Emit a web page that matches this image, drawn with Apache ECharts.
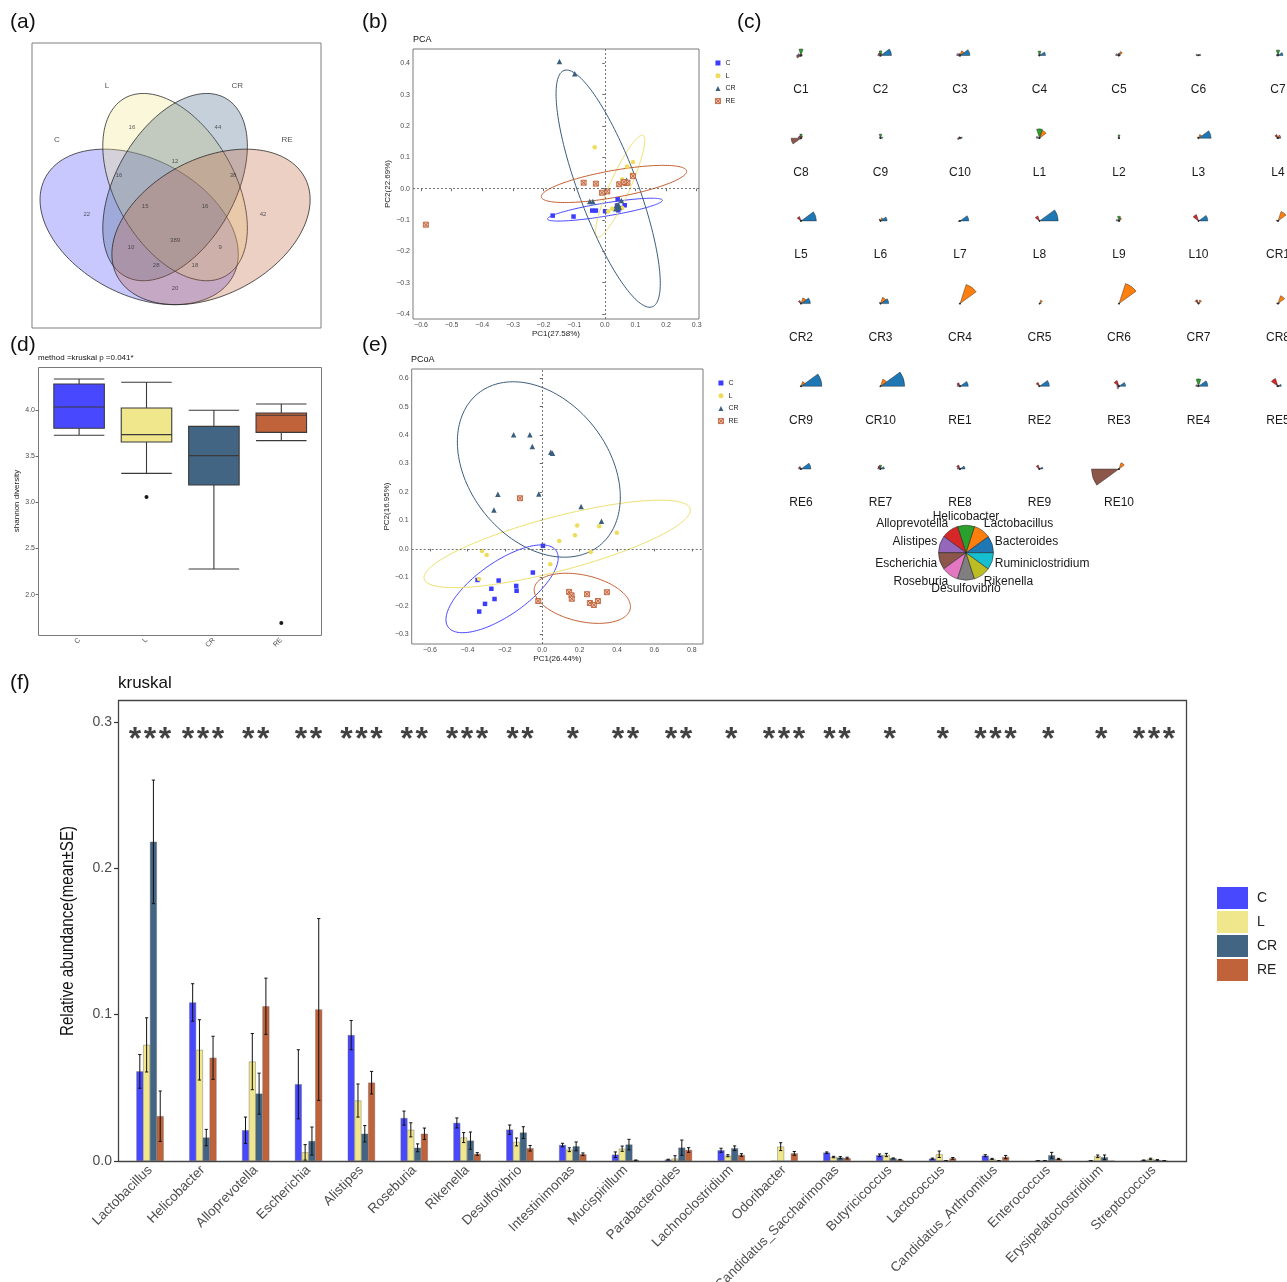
<!DOCTYPE html>
<html>
<head>
<meta charset="utf-8">
<script src="https://cdn.jsdelivr.net/npm/echarts@6.0.0/dist/echarts.min.js"></script>
<style>html,body{margin:0;padding:0;background:#fff;}#main{width:1287px;height:1282px;}</style>
</head>
<body>
<div id="main"></div>
<script>
// ================= DATA =================
const groups = ['C', 'L', 'CR', 'RE'];

// (a) Venn diagram: ellipses [cx, cy, a, b, rotationDeg] in unit square, counts per region
const vennSets = ['C', 'L', 'CR', 'RE'];
const vennEllipseC  = [0.383, 0.427, 0.335, 0.213, -26.5];
const vennEllipseL  = [0.497, 0.551, 0.320, 0.188, -59.5];
const vennEllipseCR = [0.497, 0.551, 0.320, 0.188, 59.5];
const vennEllipseRE = [0.611, 0.427, 0.335, 0.213, 26.5];
const vennCounts = [16, 44, 22, 42, 16, 12, 38, 15, 16, 10, 389, 9, 28, 18, 20];

// (b) PCA scores
const pcaC  = [[-0.170,-0.086],[-0.102,-0.089],[-0.041,-0.070],[-0.029,-0.070],[0.001,-0.072],[0.042,-0.034],[0.040,-0.054],[0.049,-0.062],[0.065,-0.053],[0.044,-0.069]];
const pcaL  = [[-0.033,0.132],[0.073,0.071],[0.092,0.085],[0.057,0.030],[0.088,0.045],[0.051,0.014],[0.011,-0.072],[0.024,-0.064],[0.057,-0.062],[0.060,0.021]];
const pcaCR = [[-0.148,0.406],[-0.098,0.367],[-0.049,-0.041],[-0.039,-0.041],[0.038,-0.054],[0.044,-0.051],[0.054,-0.038],[0.071,0.027],[0.036,-0.064],[0.047,-0.059]];
const pcaRE = [[-0.584,-0.115],[-0.069,0.019],[-0.029,0.016],[-0.009,-0.013],[0.008,-0.009],[0.047,0.014],[0.069,0.018],[0.074,0.019],[0.092,0.040],[0.062,0.021]];
// confidence ellipses [cx, cy, u1x, u1y, u2x, u2y] (centre + conjugate semi-axes)
const pcaEllC  = [0.0005, -0.067, 0.1875, 0.030, -0.0033, 0.0207];
const pcaEllL  = [0.050, 0.008, 0.0745, 0.162, -0.030, 0.0138];
const pcaEllCR = [0.011, 0.000, 0.1445, -0.377, 0.0897, 0.0344];
const pcaEllRE = [0.030, 0.015, 0.237, 0.0415, -0.0074, 0.0424];
const pcaXTicks = [-0.6,-0.5,-0.4,-0.3,-0.2,-0.1,0,0.1,0.2,0.3];
const pcaYTicks = [-0.4,-0.3,-0.2,-0.1,0,0.1,0.2,0.3,0.4];

// (c) star (segment) plots, scaled 0..1
const starTaxa = ['Bacteroides','Lactobacillus','Helicobacter','Alloprevotella','Alistipes','Escherichia','Roseburia','Desulfovibrio','Rikenella','Ruminiclostridium'];
const starKeyValues = [1,1,1,1,1,1,1,1,1,1];
const starC = [
  [0.05,0.05,0.24,0.06,0.12,0.16,0.04,0.03,0.03,0.02],
  [0.40,0.08,0.17,0.10,0.10,0.04,0.03,0.03,0.03,0.03],
  [0.36,0.18,0.06,0.08,0.12,0.05,0.03,0.03,0.03,0.03],
  [0.22,0.05,0.16,0.04,0.05,0.02,0.02,0.03,0.02,0.02],
  [0.05,0.15,0.08,0.06,0.12,0.04,0.03,0.02,0.02,0.02],
  [0.08,0.05,0.03,0.03,0.09,0.03,0.02,0.02,0.02,0.02],
  [0.18,0.05,0.20,0.05,0.06,0.04,0.02,0.02,0.02,0.02],
  [0.04,0.08,0.15,0.09,0.10,0.36,0.04,0.03,0.02,0.02],
  [0.08,0.03,0.15,0.04,0.04,0.02,0.02,0.02,0.02,0.02],
  [0.08,0.04,0.03,0.06,0.05,0.09,0.02,0.02,0.02,0.02]];
const starL = [
  [0.03,0.30,0.34,0.04,0.12,0.03,0.02,0.02,0.02,0.02],
  [0.03,0.02,0.12,0.05,0.03,0.02,0.02,0.02,0.02,0.02],
  [0.46,0.14,0.03,0.05,0.03,0.02,0.02,0.02,0.02,0.02],
  [0.10,0.12,0.05,0.14,0.05,0.03,0.02,0.02,0.02,0.02],
  [0.56,0.04,0.03,0.17,0.03,0.02,0.02,0.02,0.02,0.02],
  [0.24,0.12,0.03,0.07,0.03,0.02,0.02,0.02,0.02,0.02],
  [0.32,0.03,0.02,0.03,0.03,0.06,0.02,0.02,0.02,0.02],
  [0.68,0.02,0.02,0.19,0.02,0.02,0.02,0.02,0.02,0.02],
  [0.04,0.12,0.17,0.04,0.10,0.02,0.02,0.02,0.02,0.02],
  [0.34,0.03,0.02,0.24,0.02,0.02,0.02,0.02,0.02,0.02]];
const starCR = [
  [0.04,0.36,0.02,0.02,0.06,0.02,0.02,0.02,0.02,0.02],
  [0.34,0.22,0.03,0.12,0.03,0.02,0.02,0.02,0.02,0.02],
  [0.30,0.24,0.03,0.05,0.03,0.02,0.02,0.02,0.02,0.02],
  [0.02,0.73,0.02,0.02,0.03,0.02,0.02,0.02,0.02,0.02],
  [0.06,0.13,0.02,0.02,0.02,0.02,0.02,0.02,0.02,0.02],
  [0.02,0.77,0.02,0.02,0.02,0.02,0.02,0.02,0.02,0.02],
  [0.04,0.14,0.03,0.15,0.04,0.02,0.02,0.02,0.02,0.02],
  [0.05,0.30,0.02,0.03,0.05,0.02,0.02,0.02,0.02,0.02],
  [0.76,0.18,0.02,0.02,0.02,0.03,0.02,0.02,0.02,0.02],
  [0.88,0.27,0.02,0.02,0.02,0.03,0.02,0.02,0.02,0.02]];
const starRE = [
  [0.30,0.04,0.03,0.14,0.10,0.03,0.02,0.02,0.02,0.02],
  [0.36,0.03,0.02,0.15,0.04,0.02,0.02,0.02,0.02,0.02],
  [0.24,0.03,0.05,0.22,0.08,0.05,0.10,0.02,0.02,0.02],
  [0.34,0.04,0.27,0.05,0.10,0.03,0.02,0.02,0.02,0.02],
  [0.12,0.04,0.03,0.30,0.05,0.03,0.02,0.02,0.02,0.02],
  [0.36,0.03,0.02,0.10,0.09,0.03,0.02,0.02,0.02,0.02],
  [0.14,0.04,0.14,0.12,0.10,0.03,0.02,0.02,0.02,0.02],
  [0.18,0.04,0.03,0.15,0.10,0.03,0.02,0.02,0.02,0.02],
  [0.12,0.03,0.03,0.15,0.05,0.03,0.02,0.02,0.02,0.02],
  [0.02,0.24,0.02,0.02,0.02,1.00,0.02,0.02,0.02,0.02]];

// (d) Shannon diversity boxplot [min, Q1, median, Q3, max]
const boxC  = [3.729, 3.805, 4.036, 4.286, 4.340];
const boxL  = [3.316, 3.656, 3.736, 4.025, 4.304];
const boxCR = [2.278, 3.190, 3.508, 3.826, 4.000];
const boxRE = [3.671, 3.761, 3.946, 3.971, 4.069];
const boxOutliers = [[1, 3.060], [3, 1.693]];
const boxYTicks = [2.0, 2.5, 3.0, 3.5, 4.0];

// (e) PCoA scores
const pcoaC  = [[0.004,0.011],[-0.050,-0.083],[-0.233,-0.111],[-0.346,-0.109],[-0.272,-0.140],[-0.139,-0.130],[-0.137,-0.147],[-0.255,-0.176],[-0.306,-0.193],[-0.337,-0.220]];
const pcoaL  = [[-0.322,-0.007],[-0.297,-0.021],[-0.338,-0.106],[0.043,-0.054],[0.091,0.028],[0.175,0.048],[0.187,0.082],[0.305,0.080],[0.399,0.057],[0.260,-0.011]];
const pcoaCR = [[-0.153,0.401],[-0.066,0.401],[-0.053,0.360],[0.046,0.340],[0.055,0.336],[-0.237,0.192],[-0.258,0.137],[-0.018,0.193],[0.208,0.149],[0.317,0.097]];
const pcoaRE = [[-0.119,0.178],[-0.021,-0.183],[0.144,-0.151],[0.157,-0.163],[0.158,-0.175],[0.240,-0.159],[0.255,-0.190],[0.276,-0.197],[0.298,-0.183],[0.346,-0.152]];
const pcoaEllC  = [-0.2146, -0.1401, 0.2889, 0.1341, 0.0815, -0.0761];
const pcoaEllL  = [0.080, 0.0176, 0.7113, 0.1231, 0.0367, -0.0918];
const pcoaEllCR = [-0.018, 0.279, 0.3245, -0.2674, -0.2908, -0.1530];
const pcoaEllRE = [0.2146, -0.1735, 0.2559, -0.0380, -0.0272, -0.0794];
const pcoaXTicks = [-0.6,-0.4,-0.2,0,0.2,0.4,0.6,0.8];
const pcoaYTicks = [-0.3,-0.2,-0.1,0,0.1,0.2,0.3,0.4,0.5,0.6];

// (f) relative abundance bars
const taxa = ['Lactobacillus','Helicobacter','Alloprevotella','Escherichia','Alistipes','Roseburia','Rikenella','Desulfovibrio','Intestinimonas','Mucispirillum','Parabacteroides','Lachnoclostridium','Odoribacter','Candidatus_Saccharimonas','Butyricicoccus','Lactococcus','Candidatus_Arthromitus','Enterococcus','Erysipelatoclostridium','Streptococcus'];
const significance = ['***','***','**','**','***','**','***','**','*','**','**','*','***','**','*','*','***','*','*','***'];
const meanC  = [0.0612,0.1083,0.0210,0.0524,0.0860,0.0293,0.0260,0.0214,0.0109,0.0043,0.0009,0.0073,0.0000,0.0057,0.0039,0.0016,0.0036,0.0002,0.0002,0.0005];
const seC    = [0.0115,0.0128,0.0090,0.0236,0.0100,0.0048,0.0034,0.0032,0.0012,0.0019,0.0003,0.0014,0.0000,0.0005,0.0009,0.0004,0.0007,0.0001,0.0001,0.0002];
const meanL  = [0.0793,0.0759,0.0679,0.0059,0.0413,0.0213,0.0160,0.0130,0.0077,0.0084,0.0016,0.0036,0.0098,0.0027,0.0041,0.0046,0.0014,0.0002,0.0032,0.0014];
const seL    = [0.0185,0.0206,0.0192,0.0053,0.0113,0.0048,0.0034,0.0027,0.0013,0.0018,0.0020,0.0007,0.0027,0.0005,0.0011,0.0022,0.0004,0.0001,0.0009,0.0005];
const meanCR = [0.2180,0.0160,0.0460,0.0136,0.0186,0.0090,0.0139,0.0194,0.0100,0.0112,0.0091,0.0087,0.0000,0.0023,0.0018,0.0002,0.0002,0.0039,0.0025,0.0007];
const seCR   = [0.0422,0.0056,0.0140,0.0096,0.0056,0.0027,0.0059,0.0040,0.0030,0.0036,0.0052,0.0016,0.0000,0.0007,0.0003,0.0001,0.0001,0.0020,0.0016,0.0002];
const meanRE = [0.0306,0.0705,0.1057,0.1035,0.0535,0.0186,0.0048,0.0087,0.0046,0.0005,0.0075,0.0041,0.0052,0.0020,0.0009,0.0018,0.0027,0.0014,0.0000,0.0002];
const seRE   = [0.0172,0.0147,0.0192,0.0621,0.0077,0.0039,0.0009,0.0019,0.0009,0.0002,0.0016,0.0009,0.0013,0.0006,0.0002,0.0006,0.0011,0.0004,0.0000,0.0001];
const barYTicks = [0, 0.1, 0.2, 0.3];

// ================= STYLE / LAYOUT =================
const FONT = "'Liberation Sans', Arial, Helvetica, sans-serif";
const groupFill = ['#4848FF', '#F0E68C', '#436584', '#C0623A'];
const ptColor   = ['#3C3CFF', '#EEDC5A', '#3D5F7E', '#C0623A'];
const ellColor  = ['#4646FF', '#EEE070', '#3A5C7C', '#C35F30'];
const vennFill  = ['rgba(72,72,255,0.3)', 'rgba(240,230,140,0.32)', 'rgba(67,101,132,0.3)', 'rgba(192,98,58,0.3)'];
const keyColors = ['#1f77b4','#ff7f0e','#2ca02c','#d62728','#9467bd','#8c564b','#e377c2','#7f7f7f','#bcbd22','#17becf'];
const RE_ICON = 'path://M0,0H10V10H0Z M0,0L10,10 M10,0L0,10';
const ptSymbols = ['rect', 'circle', 'triangle', RE_ICON];
const ptSizes = [4.5, 4.5, 5.5, 5];
const reStyle = {color: 'rgba(235,190,170,1)', borderColor: '#C0623A', borderWidth: 0.9, opacity: 1};
const VENN_NAME_POS = [[0.122,0.698],[0.281,0.866],[0.694,0.866],[0.852,0.698]];
const VENN_COUNT_POS = [[0.360,0.738],[0.633,0.738],[0.217,0.467],[0.776,0.467],[0.319,0.589],[0.497,0.632],[0.681,0.589],[0.402,0.492],[0.592,0.492],[0.357,0.364],[0.497,0.386],[0.640,0.364],[0.437,0.308],[0.560,0.308],[0.497,0.237]];
const STAR = {x0: 801, dx: 79.5, y0: 55.5, dy: 82.7, r: 27.5, labelDy: 34, cols: 7, font: 12};
const KEY = {cx: 966, cy: 552.7, r: 27.5, labelR: 1.1, lift: 5.5};
const BAR_W = 6.8, CAP = 1.6, SIG_Y = 0.2875, SIG_DX = 15;
const minus = v => (v < 0 ? '\u2212' : '') + Math.abs(v).toFixed(1);

// ================= OPTION =================
const option = {
  animation: false,
  backgroundColor: '#fff',
  textStyle: {fontFamily: FONT},
  grid: [], xAxis: [], yAxis: [], polar: [], angleAxis: [], radiusAxis: [],
  series: [], legend: [], graphic: []
};

function ellipseSeries(name, params, color, axisIdx) {
  return {
    type: 'custom', name: name, xAxisIndex: axisIdx, yAxisIndex: axisIdx, silent: true, z: 1,
    dimensions: ['cx','cy','ux','uy','vx','vy'], encode: {x: 0, y: 1},
    data: [params],
    renderItem(p, api) {
      const cx = api.value(0), cy = api.value(1), ux = api.value(2), uy = api.value(3), vx = api.value(4), vy = api.value(5);
      const pts = [];
      for (let k = 0; k <= 160; k++) {
        const t = k / 160 * Math.PI * 2;
        pts.push(api.coord([cx + ux * Math.cos(t) + vx * Math.sin(t), cy + uy * Math.cos(t) + vy * Math.sin(t)]));
      }
      return {type: 'polyline', shape: {points: pts}, style: {fill: 'none', stroke: color, lineWidth: 1}};
    }
  };
}

function valueAxisCommon(ticks, fmt) {
  return {
    axisLine: {show: false},
    axisTick: {show: true, length: 2.5, customValues: ticks, lineStyle: {color: '#444', width: 0.8}},
    axisLabel: {customValues: ticks, formatter: fmt, fontSize: 7, color: '#4d4d4d', margin: 3},
    splitLine: {show: false}
  };
}

// ---------- (a) Venn ----------
option.grid.push({left: 32, top: 43, width: 289, height: 285, outerBoundsMode: 'none', containLabel: false, show: true, borderColor: '#7f7f7f', borderWidth: 1});
option.xAxis.push({gridIndex: 0, type: 'value', min: 0.043, max: 0.960, show: false});
option.yAxis.push({gridIndex: 0, type: 'value', min: 0.112, max: 1.0, show: false});
option.series.push({
  type: 'custom', xAxisIndex: 0, yAxisIndex: 0, silent: true,
  dimensions: ['cx','cy','a','b','rot'], encode: {x: 0, y: 1},
  data: [vennEllipseC, vennEllipseL, vennEllipseCR, vennEllipseRE],
  renderItem(p, api) {
    const cx = api.value(0), cy = api.value(1), a = api.value(2), b = api.value(3), th = api.value(4) * Math.PI / 180;
    const pts = [];
    for (let k = 0; k <= 160; k++) {
      const t = k / 160 * Math.PI * 2, ex = a * Math.cos(t), ey = b * Math.sin(t);
      pts.push(api.coord([cx + ex * Math.cos(th) - ey * Math.sin(th), cy + ex * Math.sin(th) + ey * Math.cos(th)]));
    }
    return {type: 'polygon', shape: {points: pts}, style: {fill: vennFill[p.dataIndex], stroke: '#2a2a2a', lineWidth: 0.8}};
  }
});
option.series.push({
  type: 'scatter', xAxisIndex: 0, yAxisIndex: 0, silent: true, symbolSize: 1, z: 5,
  itemStyle: {color: 'transparent'},
  data: vennCounts.map((c, k) => [VENN_COUNT_POS[k][0], VENN_COUNT_POS[k][1], c]),
  label: {show: true, position: 'inside', formatter: p => p.value[2], fontSize: 6, color: '#333'}
});
option.series.push({
  type: 'scatter', xAxisIndex: 0, yAxisIndex: 0, silent: true, symbolSize: 1, z: 5,
  itemStyle: {color: 'transparent'},
  data: vennSets.map((s, k) => [VENN_NAME_POS[k][0], VENN_NAME_POS[k][1], s]),
  label: {show: true, position: 'inside', formatter: p => p.value[2], fontSize: 8, color: '#222'}
});

// ---------- (b) PCA ----------
option.grid.push({left: 413, top: 49, width: 286, height: 270, outerBoundsMode: 'none', containLabel: false, show: true, borderColor: '#7a7a7a', borderWidth: 1});
option.xAxis.push(Object.assign({gridIndex: 1, type: 'value', min: -0.626, max: 0.3075,
  name: 'PC1(27.58%)', nameLocation: 'middle', nameGap: 10.5, nameTextStyle: {fontSize: 8, color: '#222'}}, valueAxisCommon(pcaXTicks, minus)));
option.yAxis.push(Object.assign({gridIndex: 1, type: 'value', min: -0.416, max: 0.4457,
  name: 'PC2(22.69%)', nameLocation: 'middle', nameGap: 20, nameRotate: 90, nameTextStyle: {fontSize: 8, color: '#222'}}, valueAxisCommon(pcaYTicks, minus)));
[pcaEllC, pcaEllL, pcaEllCR, pcaEllRE].forEach((e, i) => option.series.push(ellipseSeries(groups[i] + ' ellipse', e, ellColor[i], 1)));
[pcaC, pcaL, pcaCR, pcaRE].forEach((d, i) => option.series.push({
  type: 'scatter', name: groups[i], xAxisIndex: 1, yAxisIndex: 1, data: d, silent: true, z: 3,
  symbol: ptSymbols[i], symbolSize: ptSizes[i],
  itemStyle: i === 3 ? reStyle : {color: ptColor[i], opacity: 1},
  markLine: i === 0 ? {silent: true, symbol: ['none','none'], label: {show: false},
    lineStyle: {type: [2, 2], color: '#555', width: 0.8}, data: [{xAxis: 0}, {yAxis: 0}]} : undefined
}));

// ---------- (d) boxplot ----------
option.grid.push({left: 45.4, top: 367, width: 269.6, height: 268, outerBoundsMode: 'none', containLabel: false});
option.xAxis.push({gridIndex: 2, type: 'category', data: groups, boundaryGap: true,
  axisLine: {show: false}, axisTick: {alignWithLabel: true, length: 2.5, lineStyle: {color: '#444', width: 0.8}},
  axisLabel: {rotate: 45, fontSize: 7, color: '#4d4d4d', margin: 4}});
option.yAxis.push(Object.assign({gridIndex: 2, type: 'value', min: 1.562, max: 4.47, offset: 7.4,
  name: 'shannon diversity', nameLocation: 'middle', nameGap: 17, nameRotate: 90, nameTextStyle: {fontSize: 8, color: '#222'}},
  valueAxisCommon(boxYTicks, v => v.toFixed(1))));
option.series.push({
  type: 'boxplot', xAxisIndex: 2, yAxisIndex: 2, silent: true, boxWidth: [50.5, 50.5],
  itemStyle: {borderColor: '#3a3a3a', borderWidth: 1.1},
  data: [boxC, boxL, boxCR, boxRE].map((b, i) => ({value: b, itemStyle: {color: groupFill[i]}}))
});
option.series.push({type: 'scatter', xAxisIndex: 2, yAxisIndex: 2, silent: true, data: boxOutliers,
  symbolSize: 4, itemStyle: {color: '#1a1a1a', opacity: 1}});

// ---------- (e) PCoA ----------
option.grid.push({left: 411.7, top: 369, width: 291.3, height: 275, outerBoundsMode: 'none', containLabel: false, show: true, borderColor: '#7a7a7a', borderWidth: 1});
option.xAxis.push(Object.assign({gridIndex: 3, type: 'value', min: -0.698, max: 0.860,
  name: 'PC1(26.44%)', nameLocation: 'middle', nameGap: 11, nameTextStyle: {fontSize: 8, color: '#222'}}, valueAxisCommon(pcoaXTicks, minus)));
option.yAxis.push(Object.assign({gridIndex: 3, type: 'value', min: -0.334, max: 0.632,
  name: 'PC2(16.95%)', nameLocation: 'middle', nameGap: 19, nameRotate: 90, nameTextStyle: {fontSize: 8, color: '#222'}}, valueAxisCommon(pcoaYTicks, minus)));
[pcoaEllC, pcoaEllL, pcoaEllCR, pcoaEllRE].forEach((e, i) => option.series.push(ellipseSeries(groups[i] + ' ellipse2', e, ellColor[i], 3)));
[pcoaC, pcoaL, pcoaCR, pcoaRE].forEach((d, i) => option.series.push({
  type: 'scatter', name: groups[i], xAxisIndex: 3, yAxisIndex: 3, data: d, silent: true, z: 3,
  symbol: ptSymbols[i], symbolSize: ptSizes[i],
  itemStyle: i === 3 ? reStyle : {color: ptColor[i], opacity: 1},
  markLine: i === 0 ? {silent: true, symbol: ['none','none'], label: {show: false},
    lineStyle: {type: [2, 2], color: '#555', width: 0.8}, data: [{xAxis: 0}, {yAxis: 0}]} : undefined
}));

// ---------- (f) bar chart ----------
option.grid.push({left: 123.6, top: 700, width: 1056.8, height: 461, outerBoundsMode: 'none', containLabel: false});
option.xAxis.push({gridIndex: 4, type: 'category', data: taxa, boundaryGap: true,
  axisLine: {show: false}, axisTick: {alignWithLabel: true, length: 4, lineStyle: {color: '#333', width: 1.2}},
  axisLabel: {rotate: 45, interval: 0, fontSize: 13.5, color: '#4d4d4d', margin: 7}});
option.yAxis.push({gridIndex: 4, type: 'value', min: 0, max: 0.3149, offset: 5.6,
  axisLine: {show: false},
  axisTick: {show: true, length: 4, customValues: barYTicks, lineStyle: {color: '#333', width: 1.2}},
  axisLabel: {customValues: barYTicks, formatter: v => v.toFixed(1), fontSize: 14, color: '#4d4d4d', margin: 6},
  splitLine: {show: false}});
const barMeans = [meanC, meanL, meanCR, meanRE];
const barSE = [seC, seL, seCR, seRE];
groups.forEach((g, gi) => {
  option.series.push({type: 'bar', name: g, xAxisIndex: 4, yAxisIndex: 4, data: barMeans[gi], silent: true,
    barWidth: BAR_W, barGap: '0%', itemStyle: {color: groupFill[gi], borderColor: '#666', borderWidth: 0.4}});
});
groups.forEach((g, gi) => {
  option.series.push({
    type: 'custom', name: g + ' SE', xAxisIndex: 4, yAxisIndex: 4, silent: true, z: 5,
    dimensions: ['k','lo','hi'], encode: {x: 0, y: [1, 2]},
    data: taxa.map((t, k) => [k, barMeans[gi][k] - barSE[gi][k], barMeans[gi][k] + barSE[gi][k]]),
    renderItem(p, api) {
      const k = api.value(0), lo = api.value(1), hi = api.value(2);
      if (hi - lo <= 0) return null;
      const top = api.coord([k, hi]), bot = api.coord([k, lo]);
      const x = top[0] + (gi - 1.5) * BAR_W;
      const st = {stroke: '#111', lineWidth: 1};
      return {type: 'group', children: [
        {type: 'line', shape: {x1: x, y1: top[1], x2: x, y2: bot[1]}, style: st},
        {type: 'line', shape: {x1: x - CAP, y1: top[1], x2: x + CAP, y2: top[1]}, style: st},
        {type: 'line', shape: {x1: x - CAP, y1: bot[1], x2: x + CAP, y2: bot[1]}, style: st}
      ]};
    }
  });
});
// significance asterisks: one label per asterisk, spaced around the category centre
const sigItems = [];
significance.forEach((s, k) => {
  const n = s.length;
  for (let m = 0; m < n; m++) sigItems.push({value: [k, SIG_Y], label: {offset: [(m - (n - 1) / 2) * SIG_DX, 0]}});
});
option.series.push({
  type: 'scatter', xAxisIndex: 4, yAxisIndex: 4, silent: true, symbolSize: 1, z: 6,
  itemStyle: {color: 'transparent'},
  data: sigItems,
  label: {show: true, position: 'inside', formatter: '*', fontSize: 32, fontWeight: 'bold', color: '#111'}
});

// ---------- (c) star plots ----------
const starSamples = [];
[starC, starL, starCR, starRE].forEach((arr, gi) => arr.forEach((v, j) => starSamples.push({name: groups[gi] + (j + 1), values: v})));
starSamples.forEach((s, i) => {
  const col = i % STAR.cols, row = Math.floor(i / STAR.cols);
  const cx = STAR.x0 + col * STAR.dx, cy = STAR.y0 + row * STAR.dy;
  option.polar.push({center: [cx, cy], radius: [0, STAR.r]});
  option.angleAxis.push({polarIndex: i, type: 'category', data: starTaxa, startAngle: 0, clockwise: false, boundaryGap: true, show: false});
  option.radiusAxis.push({polarIndex: i, type: 'value', min: 0, max: 1, show: false});
  option.series.push({type: 'bar', coordinateSystem: 'polar', polarIndex: i, barCategoryGap: '0%', silent: true,
    data: s.values.map((v, j) => ({value: v, itemStyle: {color: keyColors[j]}})),
    itemStyle: {borderColor: '#1a1a1a', borderWidth: 0.4}});
  option.graphic.push({type: 'text', x: cx, y: cy + STAR.labelDy, silent: true,
    style: {text: s.name, fontSize: STAR.font, fontFamily: FONT, fill: '#1a1a1a', align: 'center', verticalAlign: 'middle'}});
});
option.series.push({
  type: 'pie', center: [KEY.cx, KEY.cy], radius: [0, KEY.r], startAngle: 0, clockwise: false, silent: true,
  data: starTaxa.map((n, j) => ({name: n, value: starKeyValues[j], itemStyle: {color: keyColors[j]}})),
  itemStyle: {borderColor: '#1a1a1a', borderWidth: 0.5},
  label: {show: false}, labelLine: {show: false}
});
// key labels, placed like R's stars() key (text at 1.1 x radius, mid-angle of each segment)
starTaxa.forEach((n, j) => {
  const th = (j + 0.5) / starTaxa.length * Math.PI * 2;
  const c = Math.cos(th), sn = Math.sin(th);
  const x = KEY.cx + KEY.labelR * KEY.r * c;
  const y = KEY.cy - KEY.labelR * KEY.r * sn - KEY.lift * sn;
  option.graphic.push({type: 'text', x: x, y: y, silent: true, z: 50,
    style: {text: n, fontSize: STAR.font, fontFamily: FONT, fill: '#1a1a1a',
      align: Math.abs(c) < 0.2 ? 'center' : (c > 0 ? 'left' : 'right'), verticalAlign: 'middle'}});
});

// ---------- legends ----------
function ptLegend(left, top) {
  return {left: left, top: top, orient: 'vertical', padding: 0, itemWidth: 5, itemHeight: 5, itemGap: 4.7,
    selectedMode: false, textStyle: {fontSize: 7, color: '#222', lineHeight: 8},
    data: groups.map((g, i) => ({name: g, icon: ptSymbols[i],
      itemStyle: i === 3 ? reStyle : {color: ptColor[i], borderWidth: 0, opacity: 1}}))};
}
option.legend.push(ptLegend(715, 59));
option.legend.push(ptLegend(718, 379));
option.legend.push({left: 1217, top: 887, orient: 'vertical', padding: 0, itemWidth: 31, itemHeight: 22, itemGap: 2,
  selectedMode: false, textStyle: {fontSize: 14, color: '#222', padding: [0, 0, 0, 4]},
  data: groups.map((g, i) => ({name: g, icon: 'rect', itemStyle: {color: groupFill[i], borderWidth: 0, opacity: 1}}))});

// ---------- frames & texts ----------
option.graphic.push(
  {type: 'rect', silent: true, shape: {x: 38.5, y: 367.5, width: 283, height: 268}, style: {fill: 'none', stroke: '#7a7a7a', lineWidth: 1}, z: 100},
  {type: 'rect', silent: true, shape: {x: 118.5, y: 700.5, width: 1068, height: 461}, style: {fill: 'none', stroke: '#444', lineWidth: 1.3}, z: 100},
  {type: 'text', x: 68.5, y: 931, rotation: Math.PI / 2, scaleX: 0.84, silent: true,
    style: {text: 'Relative abundance(mean\u00B1SE)', fontSize: 18, fontFamily: FONT, fill: '#111', align: 'center', verticalAlign: 'middle'}}
);
const texts = [
  ['(a)', 10, 22, 21], ['(b)', 362, 22, 21], ['(c)', 737, 22, 21],
  ['(d)', 10, 345, 21], ['(e)', 362, 345, 21], ['(f)', 10, 683, 21],
  ['PCA', 413, 40, 9], ['PCoA', 411, 360, 9], ['method =kruskal p =0.041*', 38, 358, 8], ['kruskal', 118, 683, 17]
];
texts.forEach(t => option.graphic.push({type: 'text', x: t[1], y: t[2], silent: true,
  style: {text: t[0], fontSize: t[3], fontFamily: FONT, fill: '#111', align: 'left', verticalAlign: 'middle'}}));

const chart = echarts.init(document.getElementById('main'), null, {renderer: 'canvas', width: 1287, height: 1282});
chart.setOption(option);
</script>
</body>
</html>
